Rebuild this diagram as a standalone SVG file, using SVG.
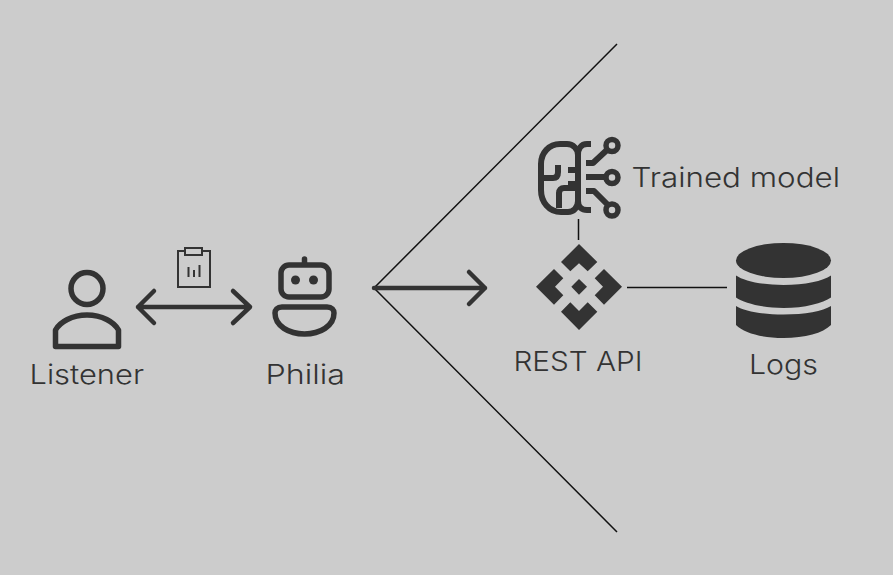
<svg xmlns="http://www.w3.org/2000/svg" width="893" height="575" viewBox="0 0 893 575">
<style>
.t{font-family:"Inter","Noto Sans","Liberation Sans",sans-serif;font-size:27.5px;font-weight:300;fill:#333}
.s{fill:none;stroke:#333;stroke-width:5.500;stroke-linecap:round;stroke-linejoin:round}
.b{fill:none;stroke:#333;stroke-width:6;stroke-linecap:butt;stroke-linejoin:round}
.a{fill:none;stroke:#333;stroke-width:4.500;stroke-linecap:round;stroke-linejoin:round}
.f{fill:#333}
.k{fill:none;stroke:#111;stroke-width:1.500}
</style>
<rect width="893" height="575" fill="#ccc"/>
<g id="connectors">
<path class="k" d="M617 44L374 288L617 532"/>
<path class="a" d="M374 288H485M469 272L485 288L469 304"/>
<path class="a" d="M138 307H250M154 291L138 307L154 323M233 291L250 307L233 323"/>
<path class="k" d="M578.500 219V240M627 287.500H727"/>
</g>
<g id="listener">
<circle class="s" cx="87" cy="288.500" r="16"/>
<path class="s" d="M55.500 346.500V330C60 322 72 315 87 315C102 315 114 322 118.500 330V346.500Z"/>
<text class="t" x="29.500" y="384" textLength="114.500" lengthAdjust="spacingAndGlyphs">Listener</text>
</g>
<g id="report">
<rect x="178" y="251" width="32" height="36" fill="none" stroke="#333" stroke-width="2"/>
<rect x="185" y="248" width="17" height="7" fill="#ccc" stroke="#333" stroke-width="2"/>
<path d="M188.500 267V277M194 270V277M199.500 265V277" fill="none" stroke="#333" stroke-width="2"/>
</g>
<g id="philia">
<rect class="s" x="281" y="265" width="48" height="32" rx="8"/>
<path class="s" d="M304.500 264V259"/>
<circle class="f" cx="295.500" cy="280" r="4.500"/>
<circle class="f" cx="313.500" cy="280" r="4.500"/>
<path class="s" d="M282 307H327C332 307 334 310 334 313C334 326 320 334 304.500 334C289 334 275 326 275 313C275 310 277 307 282 307Z"/>
<text class="t" x="265.500" y="384" textLength="79.500" lengthAdjust="spacingAndGlyphs">Philia</text>
</g>
<g id="trained-model">
<path class="b" d="M591 144H587C581 144 578 149 578 155V201C578 207 582 210 587 210H591"/>
<path class="b" d="M578 155C578 149 573 144 567 144H560C549 144 541 153 541 164V190C541 202 549 212 561 212H568C573 212 578 208 578 201"/>
<path class="b" d="M541 178H553C557 178 558 175 558 172V165M568 170H578M568 184H578M559 208V193C559 190 561 188 564 188H578"/>
<path class="b" d="M586 163H593L608 149M586 177H606M586 191H594L608 205"/>
<circle class="s" cx="612" cy="145.500" r="6"/>
<circle class="s" cx="612" cy="177.500" r="6"/>
<circle class="s" cx="612" cy="210" r="6"/>
<text class="t" x="631.500" y="187" textLength="208.500" lengthAdjust="spacingAndGlyphs">Trained model</text>
</g>
<g id="rest-api">
<path class="f" d="M579 244L597.300 262L587.700 271.300L579 263.300L570.300 271.300L561 262Z"/>
<path class="f" d="M536 286.700L554 269L563.300 278.300L555 286.700L563.300 295.300L554 304.700Z"/>
<path class="f" d="M622 286.700L604 269L594.700 278.300L603 286.700L594.700 295.300L604 304.700Z"/>
<path class="f" d="M579 330L597.300 311.700L587.700 302.300L579 311L570.300 302.300L561 311.700Z"/>
<path class="f" d="M579 279L587 286.700L579 294.700L571.300 286.700Z"/>
<text class="t" x="513.500" y="371" textLength="129" lengthAdjust="spacingAndGlyphs">REST API</text>
</g>
<g id="logs">
<ellipse class="f" cx="783.500" cy="260.500" rx="47.500" ry="17.500"/>
<path class="f" d="M736 275.500C744 281 762 285 783.500 285C805 285 823 281 831 275.500V297.500C823 303 805 308 783.500 308C762 308 744 303 736 297.500Z"/>
<path class="f" d="M736 306C744 311 762 314.500 783.500 314.500C805 314.500 823 311 831 306V325C823 333 805 338 783.500 338C762 338 744 333 736 325Z"/>
<text class="t" x="749" y="374" textLength="69" lengthAdjust="spacingAndGlyphs">Logs</text>
</g>
</svg>
